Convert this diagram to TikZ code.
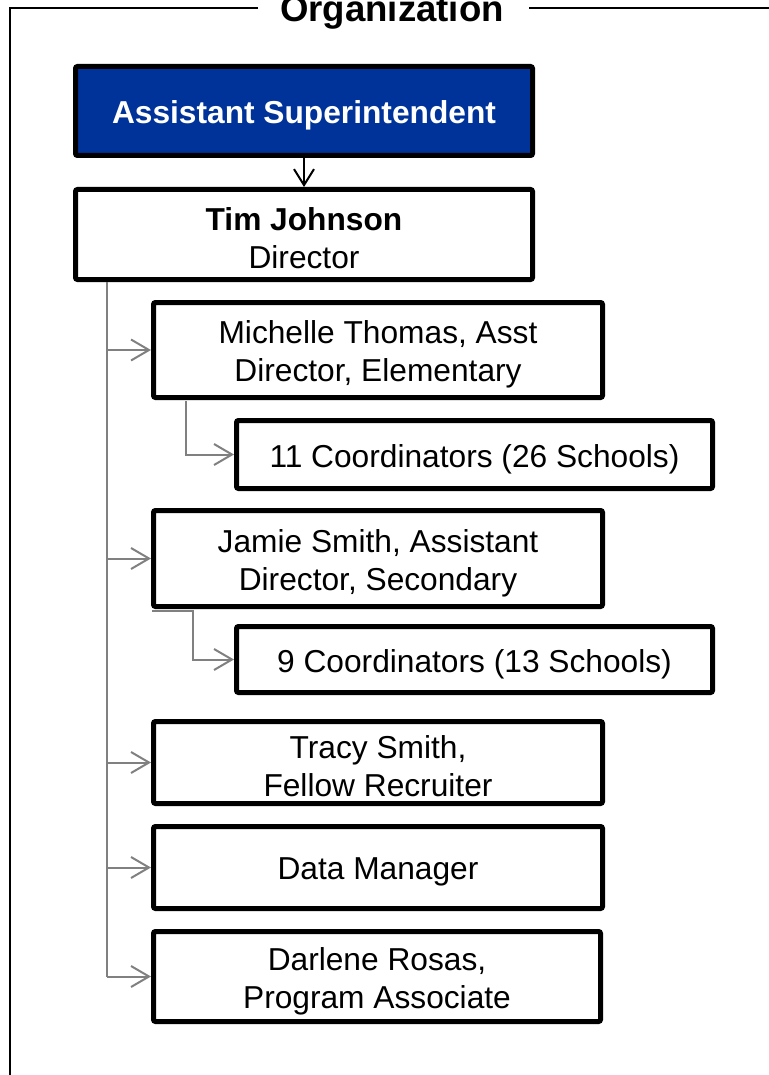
\documentclass[tikz,border=0pt]{standalone}
\usepackage{fontspec}
\setmainfont{Liberation Sans}
\usetikzlibrary{arrows.meta}
\definecolor{hdblue}{RGB}{0,51,153}
\definecolor{conngray}{RGB}{128,128,128}
\tikzset{
  box/.style={draw=black, line width=5pt, rounded corners=2pt, fill=white, inner sep=0pt},
  topbox/.style={box, fill=hdblue},
  boxtext/.style={align=center, inner sep=0pt, font=\fontsize{31.7}{38}\selectfont},
  toptext/.style={boxtext, text=white, font=\fontsize{31.7}{38}\selectfont\bfseries},
  conn/.style={draw=conngray, line width=2pt},
  connarrow/.style={conn, -{Straight Barb[length=18pt,width=21pt,line width=2pt]}},
  toparrow/.style={draw=black, line width=2pt, -{Straight Barb[length=16pt,width=20pt,line width=2pt]}},
  frameline/.style={draw=black, line width=2pt}
}
\begin{document}
\begin{tikzpicture}[x=1pt,y=-1pt]
\useasboundingbox (0,0) rectangle (768,1075);
% frame
\draw[frameline] (258,8) -- (10,8) -- (10,1080);
\draw[frameline] (529,8) -- (770,8);
\node[anchor=base, font=\fontsize{36.6}{40}\selectfont\bfseries] (title) at (392,22) {Organization};
% boxes
\node[topbox, minimum width=457pt, minimum height=89pt] (AS) at (304,111) {};
\node[box, minimum width=457pt, minimum height=90pt] (TJ) at (304,234.5) {};
\node[box, minimum width=449pt, minimum height=95pt] (MT) at (378,350) {};
\node[box, minimum width=476pt, minimum height=68pt] (C11) at (474.5,454.5) {};
\node[box, minimum width=449pt, minimum height=96pt] (JS) at (378,558.5) {};
\node[box, minimum width=476pt, minimum height=66pt] (C9) at (474.5,659.5) {};
\node[box, minimum width=449pt, minimum height=82pt] (TS) at (378,762.5) {};
\node[box, minimum width=449pt, minimum height=82pt] (DM) at (378,867.5) {};
\node[box, minimum width=447pt, minimum height=90pt] (DR) at (377,976.5) {};
% texts
\node[toptext] (ASt) at ([yshift=-4.5pt]AS.center) {Assistant Superintendent};
\node[boxtext] (TJt) at ([yshift=-3.5pt]TJ.center) {\textbf{Tim Johnson}\\Director};
\node[boxtext] (MTt) at ([yshift=-4.5pt]MT.center) {Michelle Thomas, Asst\\Director, Elementary};
\node[boxtext] (C11t) at ([yshift=-4.5pt]C11.center) {11 Coordinators (26 Schools)};
\node[boxtext] (JSt) at ([yshift=-4.5pt]JS.center) {Jamie Smith, Assistant\\Director, Secondary};
\node[boxtext] (C9t) at ([yshift=-4.5pt]C9.center) {9 Coordinators (13 Schools)};
\node[boxtext] (TSt) at ([yshift=-4pt]TS.center) {Tracy Smith,\\Fellow Recruiter};
\node[boxtext] (DMt) at ([yshift=-4.5pt]DM.center) {Data Manager};
\node[boxtext] (DRt) at ([yshift=-4.5pt]DR.center) {Darlene Rosas,\\Program Associate};
% connectors
\draw[toparrow] (AS.south) -- (TJ.north);
\coordinate (t0) at (107,282);
\draw[conn] (t0) -- (t0 |- DR.west);
\draw[connarrow] (t0 |- MT.west) -- (MT.west);
\draw[connarrow] (t0 |- JS.west) -- (JS.west);
\draw[connarrow] (t0 |- TS.west) -- (TS.west);
\draw[connarrow] (t0 |- DM.west) -- (DM.west);
\draw[connarrow] (t0 |- DR.west) -- (DR.west);
\coordinate (m1) at (186,401);
\draw[connarrow] (m1) |- (C11.west);
\coordinate (j1) at (152,611);
\coordinate (j2) at (193,611);
\draw[connarrow] (j1) -- (j2) |- (C9.west);
\end{tikzpicture}
\end{document}
